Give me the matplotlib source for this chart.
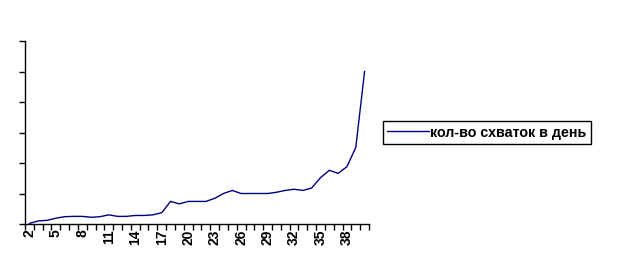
import numpy as np
import matplotlib.pyplot as plt

plt.rcParams['font.family'] = ['Liberation Sans', 'DejaVu Sans']

days = list(range(2, 41))
contractions = [0.2, 1.0, 1.2, 1.9, 2.4, 2.5, 2.5, 2.2, 2.4, 3.0,
                2.5, 2.5, 2.8, 2.8, 3.0, 3.7, 7.4, 6.6, 7.4, 7.4,
                7.4, 8.4, 10.0, 11.0, 10.0, 10.0, 10.0, 10.0, 10.4, 11.0,
                11.4, 11.0, 11.8, 15.2, 17.6, 16.6, 18.8, 25.1, 50.0]
series_name = "кол-во схваток в день"

fig = plt.figure(figsize=(6.19, 2.61), dpi=100)
ax = fig.add_axes([25/619, 1-224/261, 344/619, 183/261])

x = np.arange(len(days))
line, = ax.plot(x, contractions, color="#000080", linewidth=1.0, label=series_name)

ax.set_xlim(-0.5, len(days) - 0.5)
ax.set_ylim(0, 60)
ax.set_yticks(np.arange(0, 61, 10))
ax.set_yticklabels([])

# excel-style: ticks between categories, labels on every 3rd category
ax.set_xticks(np.arange(-0.5, len(days), 1.0))
ax.set_xticklabels([])
ax.set_xticks(x[::3], minor=True)
ax.set_xticklabels([str(d) for d in days[::3]], minor=True,
                   rotation=90, fontsize=10, fontweight='bold')
ax.tick_params(axis='x', which='minor', length=0, pad=4)
ax.tick_params(axis='both', which='major', direction='out', length=4, width=1)

for s in ['top', 'right']:
    ax.spines[s].set_visible(False)
for s in ['left', 'bottom']:
    ax.spines[s].set_linewidth(1)

fig.legend(handles=[line], loc='center left', bbox_to_anchor=(383/619, 1-132.5/261),
           frameon=True, fancybox=False, edgecolor='black', framealpha=1,
           prop={'size': 10.3, 'weight': 'bold'}, handlelength=2.9, handletextpad=0.1,
           borderpad=0.3, borderaxespad=0)

fig.savefig("out.png", dpi=100)
